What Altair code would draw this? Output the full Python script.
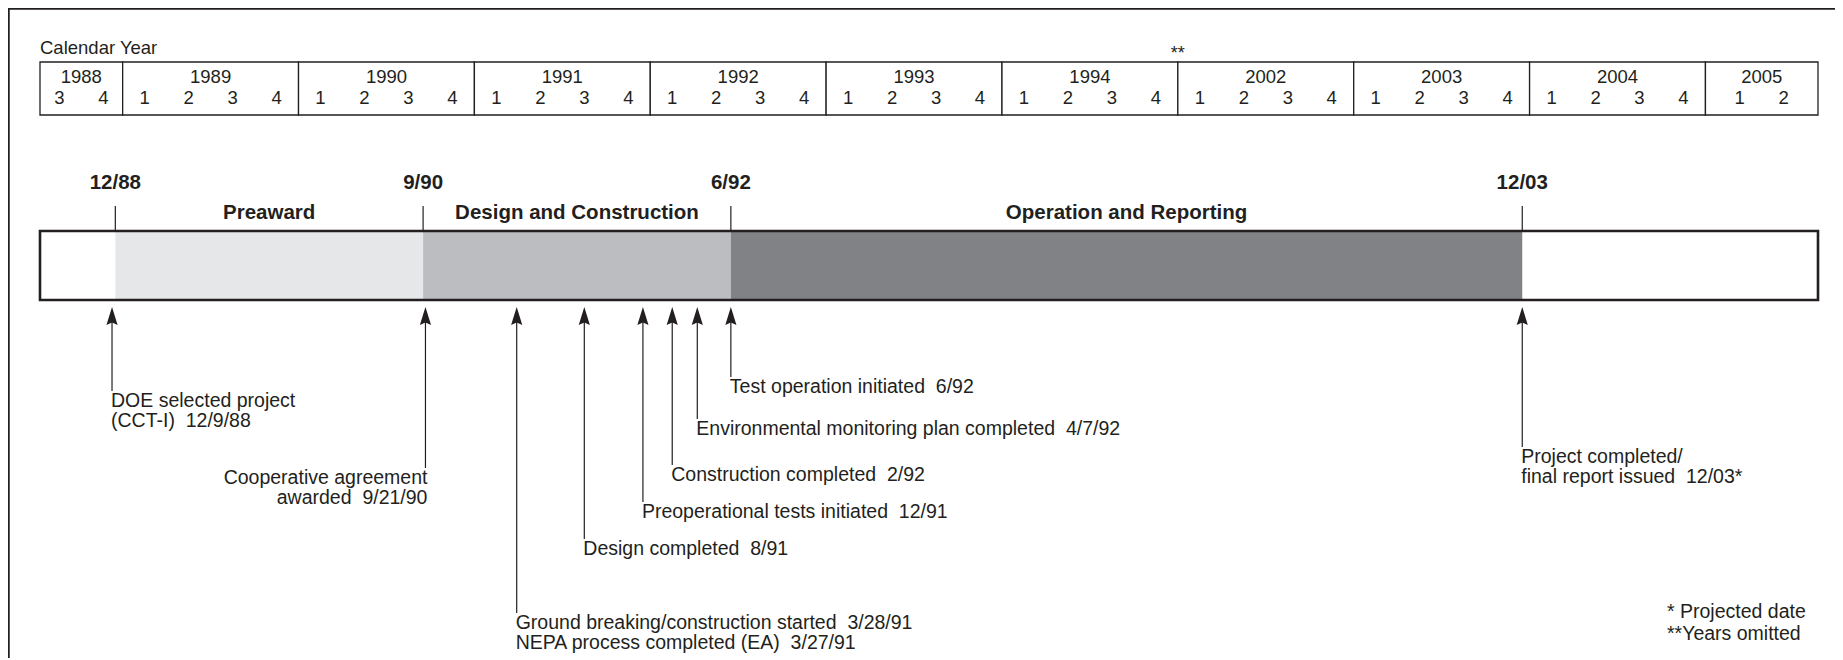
import altair as alt
import pandas as pd

# ---------------- data ----------------
YEARS = [1988, 1989, 1990, 1991, 1992, 1993, 1994, 2002, 2003, 2004, 2005]
YEAR_QUARTERS = [[3, 4], [1, 2, 3, 4], [1, 2, 3, 4], [1, 2, 3, 4], [1, 2, 3, 4],
                 [1, 2, 3, 4], [1, 2, 3, 4], [1, 2, 3, 4], [1, 2, 3, 4],
                 [1, 2, 3, 4], [1, 2]]
OMITTED_YEARS = [1995, 1996, 1997, 1998, 1999, 2000, 2001]
AXIS_START = 1988.53
AXIS_END = 2005.64

PHASES = ["Preaward", "Design and Construction", "Operation and Reporting"]
PHASE_DATES = ["12/88", "9/90", "6/92", "12/03"]
PHASE_COLORS = ["#e6e7e8", "#bcbdc0", "#808285"]

MILESTONE_DATES = ["12/9/88", "9/21/90", "3/28/91", "8/91", "12/91",
                   "2/92", "4/7/92", "6/92", "12/03"]
MILESTONE_TEXT = [
    ["DOE selected project", "(CCT-I)  12/9/88"],
    ["Cooperative agreement", "awarded  9/21/90"],
    ["Ground breaking/construction started  3/28/91",
     "NEPA process completed (EA)  3/27/91"],
    ["Design completed  8/91"],
    ["Preoperational tests initiated  12/91"],
    ["Construction completed  2/92"],
    ["Environmental monitoring plan completed  4/7/92"],
    ["Test operation initiated  6/92"],
    ["Project completed/", "final report issued  12/03*"],
]
MILESTONE_ALIGN = ["left", "right", "left", "left", "left", "left", "left", "left", "left"]
FOOTNOTES = ["* Projected date", "**Years omitted"]

# ---------------- layout (pixels, not data) ----------------
W, H = 1827, 650
X_RANGE = [32, 1810]
Y_CAL = 40
Y_TABLE = (54, 107)
Y_YEAR = 69
Y_QTR = 90
Y_STARS = 46
Y_PHASE_DATE = 175
Y_PHASE_NAME = 205
Y_TICK = (198, 223)
Y_BAR = (223, 292)
Y_ARROW_HEAD = 308
LABEL_Y = [393, 470, 615, 541, 504, 467, 421, 379, 449]
LINE_H = 20
FOOT_X = 1659
FOOT_Y = [604, 626]

INK = "#231f20"
FONT = "Liberation Sans, Arial, Helvetica, sans-serif"
N_OMIT = len(OMITTED_YEARS)


def keep_spaces(t):
    # SVG collapses runs of spaces; keep the double gaps of the original
    return t.replace("  ", "\u00a0 ")


def compress(y):
    return y - N_OMIT if y >= OMITTED_YEARS[-1] + 1 else y


def date_pos(s):
    parts = [int(p) for p in s.split("/")]
    if len(parts) == 3:
        m, d, yy = parts
        frac = (d - 0.5) / 31.0
    else:
        m, yy = parts
        frac = 0.5
    year = 1900 + yy if yy > 50 else 2000 + yy
    return compress(year + (m - 1 + frac) / 12.0)


XS = alt.Scale(domain=[compress(AXIS_START), compress(AXIS_END)], range=X_RANGE,
               nice=False, zero=False)
YS = alt.Scale(domain=[0, H], range=[0, H], nice=False, zero=False)


def X(f="x"):
    return alt.X(f"{f}:Q", scale=XS, axis=None)


def Y(f="y"):
    return alt.Y(f"{f}:Q", scale=YS, axis=None)


# ---------------- tables ----------------
cells, qlabels = [], []
for yr, qs in zip(YEARS, YEAR_QUARTERS):
    x0 = compress(max(yr, AXIS_START))
    x1 = compress(min(yr + 1, AXIS_END))
    xc = (x0 + x1) / 2
    cells.append({"x": x0, "x2": x1, "y": Y_TABLE[0], "y2": Y_TABLE[1],
                  "xc": xc, "yl": Y_YEAR, "text": str(yr)})
    qmid = (qs[0] + qs[-1]) / 2
    for q in qs:
        # quarter numbers are spread a quarter-year apart, centred in their cell
        qlabels.append({"x": xc + (q - qmid) / 4, "y": Y_QTR, "text": str(q)})
cells_df = pd.DataFrame(cells)
q_df = pd.DataFrame(qlabels)

bounds = [date_pos(s) for s in PHASE_DATES]
phase_df = pd.DataFrame({
    "x": bounds[:-1], "x2": bounds[1:],
    "xc": [(a + b) / 2 for a, b in zip(bounds[:-1], bounds[1:])],
    "y": Y_BAR[0], "y2": Y_BAR[1], "yn": Y_PHASE_NAME,
    "name": PHASES, "color": PHASE_COLORS,
})
pdate_df = pd.DataFrame({"x": bounds, "text": PHASE_DATES, "y": Y_PHASE_DATE,
                         "t0": Y_TICK[0], "t1": Y_TICK[1]})
bar_df = pd.DataFrame({"x": [compress(AXIS_START)], "x2": [compress(AXIS_END)],
                       "y": [Y_BAR[0]], "y2": [Y_BAR[1]]})

ms_rows, lbl_rows = [], []
for d, lines, al, ly in zip(MILESTONE_DATES, MILESTONE_TEXT, MILESTONE_ALIGN, LABEL_Y):
    xp = date_pos(d)
    ms_rows.append({"x": xp, "y": Y_ARROW_HEAD, "y2": ly - 10})
    for i, t in enumerate(lines):
        lbl_rows.append({"x": xp, "y": ly + i * LINE_H, "text": keep_spaces(t), "align": al})
ms_df = pd.DataFrame(ms_rows)
lbl_df = pd.DataFrame(lbl_rows)
foot_df = pd.DataFrame({"y": FOOT_Y, "text": FOOTNOTES})

one = pd.DataFrame({"a": [0]})

# ---------------- layers ----------------
frame_top = alt.Chart(one).mark_rule(color=INK, strokeWidth=2.5).encode(
    x=alt.value(0), x2=alt.value(W), y=alt.value(0.5))
frame_left = alt.Chart(one).mark_rule(color=INK, strokeWidth=2.5).encode(
    x=alt.value(0.5), y=alt.value(0), y2=alt.value(H))

cal = alt.Chart(pd.DataFrame({"x": [compress(AXIS_START)], "y": [Y_CAL], "t": ["Calendar Year"]})
                ).mark_text(align="left", baseline="middle", font=FONT, fontSize=18.5,
                            color=INK).encode(x=X(), y=Y(), text="t:N")

stars = alt.Chart(pd.DataFrame({"x": [compress(OMITTED_YEARS[-1] + 1)], "y": [Y_STARS], "t": ["**"]})
                  ).mark_text(align="center", baseline="middle", font=FONT, fontSize=18,
                              color=INK).encode(x=X(), y=Y(), text="t:N")

table = alt.Chart(cells_df).mark_rect(fill="white", stroke=INK, strokeWidth=1.3).encode(
    x=X(), x2="x2:Q", y=Y(), y2="y2:Q")
year_txt = alt.Chart(cells_df).mark_text(baseline="middle", font=FONT, fontSize=18.5,
                                         color=INK).encode(x=X("xc"), y=Y("yl"), text="text:N")
q_txt = alt.Chart(q_df).mark_text(baseline="middle", font=FONT, fontSize=18.5,
                                  color=INK).encode(x=X(), y=Y(), text="text:N")

bar_bg = alt.Chart(bar_df).mark_rect(fill="white").encode(x=X(), x2="x2:Q", y=Y(), y2="y2:Q")
phases = alt.Chart(phase_df).mark_rect().encode(
    x=X(), x2="x2:Q", y=Y(), y2="y2:Q",
    fill=alt.Fill("color:N", scale=None))
bar_outline = alt.Chart(bar_df).mark_rect(filled=False, stroke=INK, strokeWidth=2.6).encode(
    x=X(), x2="x2:Q", y=Y(), y2="y2:Q")

ticks = alt.Chart(pdate_df).mark_rule(color=INK, strokeWidth=1.2).encode(
    x=X(), y=Y("t0"), y2="t1:Q")
pdates = alt.Chart(pdate_df).mark_text(baseline="middle", font=FONT, fontSize=20.5,
                                       fontWeight="bold", color=INK).encode(
    x=X(), y=Y(), text="text:N")
pnames = alt.Chart(phase_df).mark_text(baseline="middle", font=FONT, fontSize=20.5,
                                       fontWeight="bold", color=INK).encode(
    x=X("xc"), y=Y("yn"), text="name:N")

shafts = alt.Chart(ms_df).mark_rule(color=INK, strokeWidth=1.2).encode(
    x=X(), y=Y(), y2="y2:Q")
heads = alt.Chart(ms_df).mark_point(
    shape="M0,-1L0.62,1L0,0.72L-0.62,1Z", size=324, filled=True, fill=INK,
    strokeWidth=0, opacity=1).encode(x=X(), y=Y())

lbl_left = alt.Chart(lbl_df).transform_filter(alt.datum.align == "left").mark_text(
    align="left", baseline="middle", dx=-1, font=FONT, fontSize=19.5, color=INK).encode(
    x=X(), y=Y(), text="text:N")
lbl_right = alt.Chart(lbl_df).transform_filter(alt.datum.align == "right").mark_text(
    align="right", baseline="middle", dx=2, font=FONT, fontSize=19.5, color=INK).encode(
    x=X(), y=Y(), text="text:N")

foot = alt.Chart(foot_df).mark_text(align="left", baseline="middle", font=FONT,
                                    fontSize=19.5, color=INK).encode(
    x=alt.value(FOOT_X), y=Y(), text="text:N")

chart = alt.layer(
    frame_top, frame_left, cal, stars, table, year_txt, q_txt,
    bar_bg, phases, bar_outline, ticks, pdates, pnames,
    shafts, heads, lbl_left, lbl_right, foot,
).properties(
    width=W, height=H, padding=0, background="white",
    autosize=alt.AutoSizeParams(type="none"),
).configure_view(stroke=None)

chart.save("out.html", embed_options={"renderer": "svg", "actions": False})
